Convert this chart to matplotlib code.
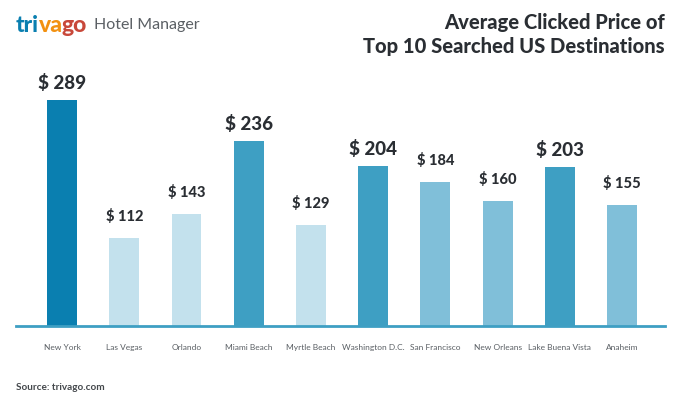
import matplotlib
matplotlib.use("Agg")
import matplotlib.pyplot as plt

# ── Data ──────────────────────────────────────────────────────────────────────
cities = ["New York", "Las Vegas", "Orlando", "Miami Beach", "Myrtle Beach",
          "Washington D.C.", "San Francisco", "New Orleans", "Lake Buena Vista",
          "Anaheim"]
prices = [289, 112, 143, 236, 129, 204, 184, 160, 203, 155]
# shade tier of each bar (0 = darkest)
tiers = [0, 3, 3, 1, 3, 1, 2, 2, 1, 2]

# ── Style ─────────────────────────────────────────────────────────────────────
TIER_COLORS = ["#0a7fb0", "#3e9fc3", "#80bfd9", "#c3e1ed"]
TIER_LABEL_SIZE = [13.5, 13.5, 10.5, 10.5]
TIER_LABEL_GAP = [6, 6, 10, 10]
DARK = "#2a2e33"
GREY = "#5a5f64"

plt.rcParams["font.family"] = ["Lato", "DejaVu Sans"]

fig = plt.figure(figsize=(6.8, 4.07), dpi=100)
ax = fig.add_axes([16 / 680, 81 / 407, 649 / 680, 266 / 407])

x = list(range(len(cities)))
colors = [TIER_COLORS[t] for t in tiers]
bars = ax.bar(x, prices, width=0.48, color=colors, zorder=2)

for bar, val, t in zip(bars, prices, tiers):
    ax.annotate(f"$ {val}", (bar.get_x() + bar.get_width() / 2, val),
                xytext=(0, TIER_LABEL_GAP[t]), textcoords="offset points",
                ha="center", va="bottom", fontsize=TIER_LABEL_SIZE[t],
                fontweight="black", color=DARK)

ax.set_xlim(-0.74, 9.69)
ax.set_ylim(0, 340)
ax.set_xticks(x)
ax.set_xticklabels(cities, fontsize=6, color=GREY)
ax.tick_params(axis="x", length=0, pad=13)
ax.set_yticks([])
for side in ["top", "right", "left"]:
    ax.spines[side].set_visible(False)
ax.spines["bottom"].set_color("#3e9fc3")
ax.spines["bottom"].set_linewidth(2)
ax.spines["bottom"].set_zorder(3)

# ── Header ────────────────────────────────────────────────────────────────────
fig.text(665 / 680, 1 - 22 / 407, "Average Clicked Price of", ha="right",
         va="center", fontsize=14.5, fontweight="black", color=DARK)
fig.text(665 / 680, 1 - 47 / 407, "Top 10 Searched US Destinations", ha="right",
         va="center", fontsize=14.5, fontweight="black", color=DARK)

# trivago logo in three coloured pieces, set tight like the wordmark
logo_y = 1 - 25 / 407
LOGO_FONT = dict(fontsize=16.5, fontweight="black", va="center", ha="left")
r = fig.canvas.get_renderer()

pos = 16.0
for piece, col in [("tri", "#0a7fb0"), ("va", "#f29111"), ("go", "#c8483a")]:
    t = fig.text(pos / 680, logo_y, piece, color=col, **LOGO_FONT)
    pos = t.get_window_extent(r).x1 - 0.5
fig.text((pos + 7) / 680, logo_y, "Hotel Manager", ha="left", va="center",
         fontsize=11.5, color=GREY)

fig.text(16 / 680, 1 - 388 / 407, "Source: trivago.com", ha="left", va="center",
         fontsize=7.2, fontweight="bold", color="#44484c")

fig.savefig("out.png", dpi=100)
